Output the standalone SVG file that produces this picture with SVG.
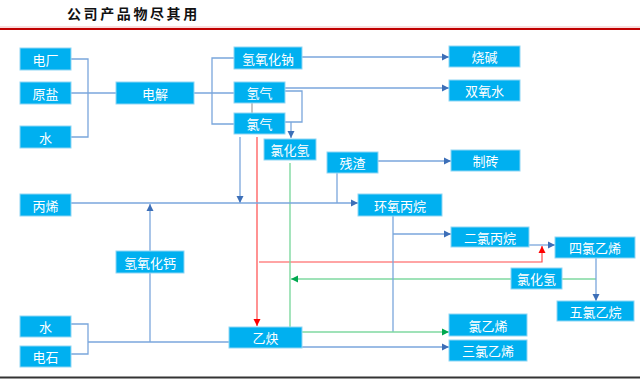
<svg xmlns="http://www.w3.org/2000/svg" width="640" height="382" viewBox="0 0 640 382">
<defs>
<style>
.box rect{fill:#00B0F0;stroke:#8fd6f4;stroke-width:1}
.box text{fill:#fff;font-family:"Noto Sans CJK SC","Noto Sans",sans-serif;font-size:13px;text-anchor:middle;dominant-baseline:central}
.c{fill:none;stroke:#7aa6dc;stroke-width:1.3}
.r{fill:none;stroke:#ff4a4a;stroke-width:1.2}
.g{fill:none;stroke:#7fd9a0;stroke-width:1.4}
.k{fill:none;stroke:#a0a0a0;stroke-width:1.2}
.title{font-family:"Noto Sans CJK SC",sans-serif;font-size:14px;font-weight:bold;fill:#111;letter-spacing:2.6px}
</style>
<marker id="ab" markerWidth="8" markerHeight="8" refX="7" refY="4" orient="auto" markerUnits="userSpaceOnUse"><path d="M0,0.5 L7,4 L0,7.5 Z" fill="#3d6fb8"/></marker>
<marker id="ar" markerWidth="8" markerHeight="8" refX="7" refY="4" orient="auto" markerUnits="userSpaceOnUse"><path d="M0,0.5 L7,4 L0,7.5 Z" fill="#ff0000"/></marker>
<marker id="ag" markerWidth="8" markerHeight="8" refX="7" refY="4" orient="auto" markerUnits="userSpaceOnUse"><path d="M0,0.5 L7,4 L0,7.5 Z" fill="#00a84f"/></marker>
</defs>
<rect width="640" height="382" fill="#fff"/>
<text class="title" x="67" y="19">公司产品物尽其用</text>
<line x1="0" y1="27" x2="640" y2="27" stroke="#f2b8b8" stroke-width="1"/>
<line x1="0" y1="29" x2="640" y2="29" stroke="#c00000" stroke-width="2"/>
<line x1="0" y1="377.5" x2="640" y2="377.5" stroke="#333" stroke-width="2"/>

<g id="connectors">
<polyline class="c" points="71,59 88,59 88,137 71,137"/>
<line class="c" x1="71" y1="93" x2="116" y2="93"/>
<line class="c" x1="194" y1="93" x2="234" y2="93"/>
<polyline class="c" points="234,58 212,58 212,124 234,124"/>
<line class="c" x1="302" y1="57" x2="449" y2="57" marker-end="url(#ab)"/>
<line class="c" x1="285" y1="88" x2="449" y2="88" marker-end="url(#ab)"/>
<polyline class="c" points="285,91 302,91 302,122 285,122"/>
<line class="c" x1="291" y1="122" x2="291" y2="138" marker-end="url(#ab)"/>
<line class="k" x1="252" y1="103" x2="252" y2="113"/>
<line class="c" x1="240" y1="137" x2="240" y2="203" marker-end="url(#ab)"/>
<line class="r" x1="257" y1="137" x2="257" y2="326" marker-end="url(#ar)"/>
<polyline class="r" points="259,262 542,262 542,246" marker-end="url(#ar)"/>
<line class="g" x1="290" y1="163" x2="290" y2="327"/>
<line class="g" x1="511" y1="279" x2="291" y2="279" marker-end="url(#ag)"/>
<line class="g" x1="562" y1="279" x2="596" y2="279"/>
<line class="c" x1="596" y1="258" x2="596" y2="301" marker-end="url(#ab)"/>
<line class="c" x1="529" y1="245" x2="555" y2="245" marker-end="url(#ab)"/>
<line class="c" x1="393" y1="216" x2="393" y2="332"/>
<line class="c" x1="393" y1="234" x2="451" y2="234" marker-end="url(#ab)"/>
<line class="c" x1="71" y1="203" x2="358" y2="203" marker-end="url(#ab)"/>
<line class="c" x1="337" y1="173" x2="337" y2="203"/>
<line class="c" x1="378" y1="161" x2="451" y2="161" marker-end="url(#ab)"/>
<line class="c" x1="150" y1="251" x2="150" y2="204" marker-end="url(#ab)"/>
<line class="c" x1="150" y1="273" x2="150" y2="342"/>
<polyline class="c" points="71,324 88,324 88,354 71,354"/>
<line class="c" x1="88" y1="342" x2="229" y2="342"/>
<line class="g" x1="302" y1="332" x2="449" y2="332" marker-end="url(#ag)"/>
<line class="c" x1="302" y1="347" x2="449" y2="347" stroke="#4a86cf" marker-end="url(#ab)"/>
</g>

<g id="n-dianchang" class="box"><rect x="20" y="48" width="51" height="22"/><text x="45.5" y="59">电厂</text></g>
<g id="n-yuanyan" class="box"><rect x="20" y="82" width="51" height="22"/><text x="45.5" y="93">原盐</text></g>
<g id="n-shui1" class="box"><rect x="20" y="126" width="51" height="22"/><text x="45.5" y="137">水</text></g>
<g id="n-dianjie" class="box"><rect x="116" y="82" width="78" height="22"/><text x="155" y="93">电解</text></g>
<g id="n-qqhn" class="box"><rect x="234" y="47" width="68" height="22"/><text x="268" y="58">氢氧化钠</text></g>
<g id="n-qingqi" class="box"><rect x="234" y="82" width="51" height="21"/><text x="259.5" y="92.5">氢气</text></g>
<g id="n-lvqi" class="box"><rect x="234" y="113" width="51" height="21"/><text x="259.5" y="123.5">氯气</text></g>
<g id="n-shaojian" class="box"><rect x="449" y="46" width="71" height="21"/><text x="484.5" y="56.5">烧碱</text></g>
<g id="n-shuangyangshui" class="box"><rect x="449" y="80" width="71" height="21"/><text x="484.5" y="90.5">双氧水</text></g>
<g id="n-lhq1" class="box"><rect x="264" y="139" width="52" height="21"/><text x="290" y="149.5">氯化氢</text></g>
<g id="n-canzha" class="box"><rect x="327" y="152" width="51" height="21"/><text x="352.5" y="162.5">残渣</text></g>
<g id="n-zhizhuan" class="box"><rect x="451" y="150" width="69" height="21"/><text x="485.5" y="160.5">制砖</text></g>
<g id="n-bingxi" class="box"><rect x="20" y="194" width="51" height="22"/><text x="45.5" y="205">丙烯</text></g>
<g id="n-hybw" class="box"><rect x="358" y="194" width="84" height="22"/><text x="400" y="205">环氧丙烷</text></g>
<g id="n-qqhg" class="box"><rect x="116" y="251" width="68" height="22"/><text x="150" y="262">氢氧化钙</text></g>
<g id="n-elbw" class="box"><rect x="451" y="227" width="78" height="20"/><text x="490" y="237">二氯丙烷</text></g>
<g id="n-slyx" class="box"><rect x="555" y="237" width="80" height="21"/><text x="595" y="247.5">四氯乙烯</text></g>
<g id="n-lhq2" class="box"><rect x="511" y="268" width="51" height="21"/><text x="536.5" y="278.5">氯化氢</text></g>
<g id="n-wlyw" class="box"><rect x="557" y="301" width="77" height="20"/><text x="595.5" y="311">五氯乙烷</text></g>
<g id="n-shui2" class="box"><rect x="20" y="316" width="51" height="21"/><text x="45.5" y="326.5">水</text></g>
<g id="n-dianshi" class="box"><rect x="20" y="346" width="51" height="21"/><text x="45.5" y="356.5">电石</text></g>
<g id="n-yique" class="box"><rect x="229" y="327" width="73" height="21"/><text x="265.5" y="337.5">乙炔</text></g>
<g id="n-lyx" class="box"><rect x="449" y="314" width="78" height="22"/><text x="488" y="325">氯乙烯</text></g>
<g id="n-sanlyx" class="box"><rect x="449" y="340" width="78" height="21"/><text x="488" y="350.5">三氯乙烯</text></g>
</svg>
